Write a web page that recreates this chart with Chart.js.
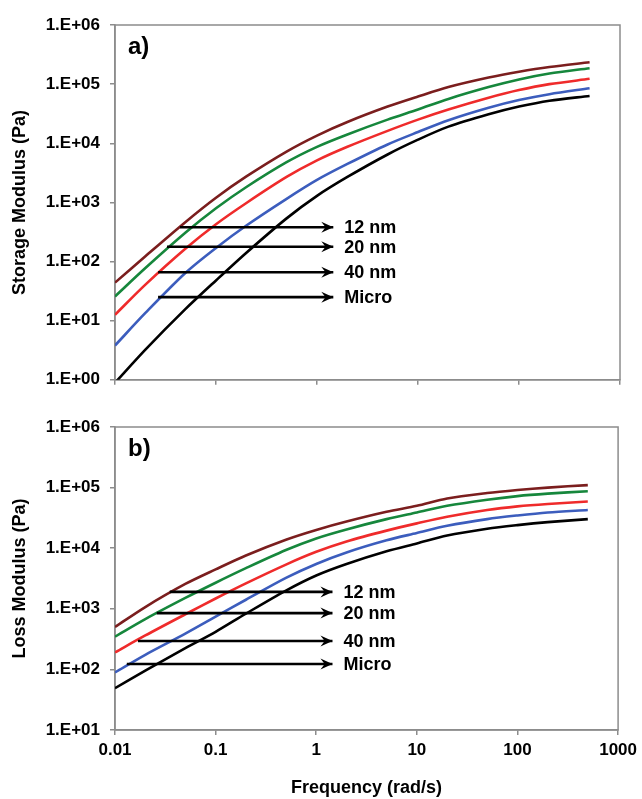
<!DOCTYPE html>
<html>
<head>
<meta charset="utf-8">
<script src="https://cdn.jsdelivr.net/npm/chart.js@4/dist/chart.umd.min.js"></script>
<style>
  body { margin: 0; background: #fff; }
  canvas { display: block; }
</style>
</head>
<body>
<canvas id="storage-chart" width="642" height="400"></canvas>
<canvas id="loss-chart" width="642" height="399"></canvas>
<script>
// Frecuencias (rad/s)
var freq = [0.01, 0.02, 0.05, 0.1, 0.2, 0.5, 1, 2, 5, 10, 20, 50, 100, 200, 500];

// Storage modulus (Pa)
var storage12 = [44, 123, 468, 1200, 2750, 7240, 13500, 22900, 41700, 61700, 89100, 129000, 162000, 195000, 234000];
var storage20 = [25.7, 77.6, 309, 794, 1820, 4790, 8710, 14100, 25100, 37200, 56200, 89100, 120000, 151000, 186000];
var storage40 = [12.6, 40.7, 166, 427, 977, 2690, 5130, 8710, 16200, 25100, 37200, 58900, 79400, 100000, 123000];
var storageMicro = [3.8, 13.5, 64.6, 170, 407, 1150, 2400, 4470, 9550, 15500, 24500, 39800, 53700, 67600, 85100];
var storageBlack = [0.89, 3.24, 15.8, 47.9, 141, 537, 1290, 2690, 6460, 11500, 19100, 30900, 41700, 52500, 63100];

// Loss modulus (Pa)
var loss12 = [501, 1070, 2570, 4470, 7590, 13800, 20000, 27500, 39800, 50100, 66100, 81300, 91200, 100000, 110000];
var loss20 = [347, 676, 1510, 2690, 4680, 9330, 14500, 20400, 30200, 38900, 50100, 63100, 72400, 79400, 87100];
var loss40 = [191, 363, 813, 1480, 2630, 5370, 8710, 12900, 19500, 25700, 33100, 42700, 49000, 53700, 58900];
var lossMicro = [89, 174, 389, 741, 1410, 3240, 5500, 8510, 13500, 17800, 23400, 30200, 34700, 38900, 42700];
var lossBlack = [49, 95.5, 224, 417, 832, 2000, 3550, 5500, 8910, 12000, 16200, 20900, 24000, 26900, 30200];

// Flechas con etiquetas
var arrowLabels = ['12 nm', '20 nm', '40 nm', 'Micro'];
var arrowTip = 1.45;
var storageArrowY = [380, 178, 66, 25];
var storageArrowStart = [0.044, 0.0327, 0.0267, 0.0267];
var lossArrowY = [1900, 850, 295, 123];
var lossArrowStart = [0.035, 0.026, 0.0169, 0.0131];

// Ticks
var xTicks = [0.01, 0.1, 1, 10, 100, 1000];
var xTickLabels = ['0.01', '0.1', '1', '10', '100', '1000'];
var storageTicks = [1, 10, 100, 1000, 10000, 100000, 1000000];
var storageTickLabels = ['1.E+00', '1.E+01', '1.E+02', '1.E+03', '1.E+04', '1.E+05', '1.E+06'];
var lossTicks = [10, 100, 1000, 10000, 100000, 1000000];
var lossTickLabels = ['1.E+01', '1.E+02', '1.E+03', '1.E+04', '1.E+05', '1.E+06'];

var colors = ['#7b1e1e', '#16873c', '#ef2b2b', '#3c5dbd', '#000000'];
var curveNames = ['12 nm', '20 nm', '40 nm', 'Micro', 'Unlabelled'];
var axisGray = '#8c8c8c';
var fontFamily = '"Liberation Sans", Arial, sans-serif';

Chart.defaults.font.family = fontFamily;
Chart.defaults.color = '#000';

var framePlugin = {
    id: 'frame',
    beforeDatasetsDraw: function(chart) {
        var a = chart.chartArea, ctx = chart.ctx;
        ctx.save();
        ctx.strokeStyle = axisGray;
        ctx.lineWidth = 1.5;
        ctx.strokeRect(a.left, a.top, a.right - a.left, a.bottom - a.top);
        ctx.restore();
    }
};

var annotPlugin = {
    id: 'annot',
    afterDatasetsDraw: function(chart, args, opts) {
        var ctx = chart.ctx, a = chart.chartArea;
        ctx.save();
        ctx.fillStyle = '#000';
        ctx.font = 'bold 24px ' + fontFamily;
        ctx.textBaseline = 'middle';
        ctx.fillText(opts.tag, a.left + 13, a.top + 22);
        ctx.font = 'bold 18px ' + fontFamily;
        chart.data.datasets.forEach(function(ds, i) {
            if (!ds.arrowLabel) return;
            var pts = chart.getDatasetMeta(i).data;
            var p = pts[pts.length - 1];
            var L = 12, W = 5.5;
            ctx.beginPath();
            ctx.moveTo(p.x, p.y);
            ctx.lineTo(p.x - L, p.y - W);
            ctx.lineTo(p.x - L * 0.65, p.y);
            ctx.lineTo(p.x - L, p.y + W);
            ctx.closePath();
            ctx.fill();
            ctx.fillText(ds.arrowLabel, p.x + 11, p.y + 1);
        });
        ctx.restore();
    }
};

function buildDatasets(curves, arrowY, arrowStart) {
    var sets = curves.map(function(vals, i) {
        return {
            label: curveNames[i],
            data: freq.map(function(f, j) { return { x: f, y: vals[j] }; }),
            borderColor: colors[i],
            borderWidth: 2.6,
            pointRadius: 0,
            tension: 0.3,
            order: 1
        };
    });
    arrowY.forEach(function(y, i) {
        sets.push({
            label: arrowLabels[i],
            arrowLabel: arrowLabels[i],
            data: [{ x: arrowStart[i], y: y }, { x: arrowTip, y: y }],
            borderColor: '#000',
            borderWidth: 2.6,
            pointRadius: 0,
            order: 0
        });
    });
    return sets;
}

function drawPanel(id, curves, arrowY, arrowStart, yMin, yTicks, yLabels, yTitle, tag, showX) {
    var ctx = document.getElementById(id).getContext('2d');
    var tickFont = { size: 17, weight: 'bold' };
    var titleFont = { size: 18, weight: 'bold' };
    return new Chart(ctx, {
        type: 'line',
        data: { datasets: buildDatasets(curves, arrowY, arrowStart) },
        plugins: [framePlugin, annotPlugin],
        options: {
            responsive: false,
            animation: false,
            layout: { padding: { top: showX ? 27 : 25, right: 22, left: 0, bottom: 0 } },
            plugins: {
                legend: { display: false },
                tooltip: { enabled: false },
                annot: { tag: tag }
            },
            scales: {
                x: {
                    type: 'logarithmic',
                    min: 0.01,
                    max: 1000,
                    afterBuildTicks: function(scale) {
                        scale.ticks = xTicks.map(function(v) { return { value: v }; });
                    },
                    afterFit: function(scale) { scale.height = showX ? 69 : 10; },
                    ticks: {
                        display: showX,
                        font: tickFont,
                        padding: 5,
                        maxRotation: 0,
                        autoSkip: false,
                        callback: function(v, i) { return xTickLabels[i]; }
                    },
                    grid: { drawOnChartArea: false, drawTicks: true, tickLength: 5, color: axisGray, lineWidth: 1.5 },
                    border: { color: axisGray, width: 1.5 },
                    title: { display: showX, text: 'Frequency (rad/s)', font: titleFont, padding: { top: 0, bottom: 0 } }
                },
                y: {
                    type: 'logarithmic',
                    min: yMin,
                    max: 1000000,
                    afterBuildTicks: function(scale) {
                        scale.ticks = yTicks.map(function(v) { return { value: v }; });
                    },
                    afterFit: function(scale) { scale.width = 115; },
                    ticks: {
                        font: tickFont,
                        padding: 10,
                        autoSkip: false,
                        callback: function(v, i) { return yLabels[i]; }
                    },
                    grid: { drawOnChartArea: false, drawTicks: true, tickLength: 5, color: axisGray, lineWidth: 1.5 },
                    border: { color: axisGray, width: 1.5 },
                    title: { display: true, text: yTitle, font: titleFont, padding: { top: 9, bottom: 0 } }
                }
            }
        }
    });
}

document.addEventListener('DOMContentLoaded', function() {
    drawPanel('storage-chart',
        [storage12, storage20, storage40, storageMicro, storageBlack],
        storageArrowY, storageArrowStart,
        1, storageTicks, storageTickLabels, 'Storage Modulus (Pa)', 'a)', false);
    drawPanel('loss-chart',
        [loss12, loss20, loss40, lossMicro, lossBlack],
        lossArrowY, lossArrowStart,
        10, lossTicks, lossTickLabels, 'Loss Modulus (Pa)', 'b)', true);
});
</script>
</body>
</html>
